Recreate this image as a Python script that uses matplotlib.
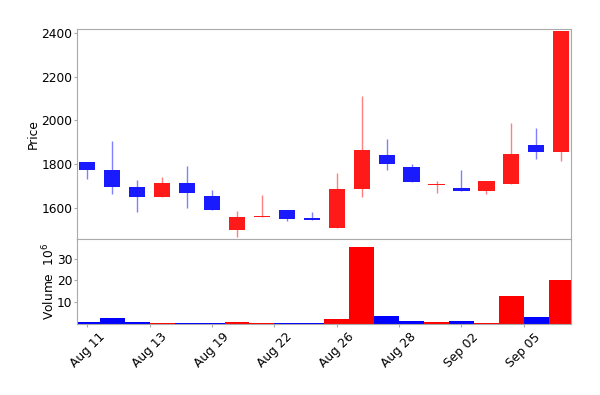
import numpy as np
import matplotlib
matplotlib.use("Agg")
import matplotlib.pyplot as plt
from matplotlib.ticker import MultipleLocator, FuncFormatter

# === Data ===
dates = ["Aug 11", "Aug 12", "Aug 13", "Aug 14", "Aug 18", "Aug 19", "Aug 21",
         "Aug 22", "Aug 23", "Aug 25", "Aug 26", "Aug 27", "Aug 28", "Aug 29",
         "Sep 01", "Sep 02", "Sep 04", "Sep 05", "Sep 08", "Sep 09"]
opens = [1810, 1774, 1696, 1652, 1713, 1655, 1499, 1559, 1591, 1553,
         1510, 1688, 1842, 1787, 1704, 1690, 1676, 1707, 1887, 1855]
closes = [1771, 1697, 1650, 1713, 1667, 1589, 1560, 1564, 1547, 1544,
          1688, 1865, 1800, 1719, 1710, 1675, 1722, 1848, 1855, 2410]
highs = [1810, 1906, 1728, 1740, 1792, 1682, 1586, 1659, 1591, 1579,
         1761, 2112, 1915, 1800, 1722, 1771, 1722, 1987, 1964, 2410]
lows = [1731, 1663, 1582, 1652, 1601, 1589, 1469, 1559, 1539, 1544,
        1510, 1649, 1774, 1719, 1667, 1675, 1664, 1707, 1823, 1812]
volumes = [0.5, 2.4, 0.8, 0.3, 0.3, 0.3, 0.6, 0.2, 0.1, 0.1,
           2.1, 35.7, 3.5, 1.3, 0.7, 1.0, 0.3, 12.9, 2.9, 20.2]  # millions

opens = np.array(opens, dtype=float)
closes = np.array(closes, dtype=float)
highs = np.array(highs, dtype=float)
lows = np.array(lows, dtype=float)
volumes = np.array(volumes, dtype=float)
x = np.arange(len(dates))

up = closes >= opens
body_colors = np.where(up, "#ff1a1a", "#1a1aff")
vol_colors = np.where(up, "red", "blue")
wick_colors = np.where(up, "#ff8080", "#8080ff")

plt.rcParams["font.size"] = 8.8
spine_col = "#aaaaaa"

fig = plt.figure(figsize=(6, 3.95), dpi=100)
ax = fig.add_axes([0.129, 0.395, 0.823, 0.532])
axv = fig.add_axes([0.129, 0.181, 0.823, 0.214], sharex=ax)

# candles
ax.vlines(x, lows, highs, colors=wick_colors, linewidth=1, zorder=1)
bottoms = np.minimum(opens, closes)
heights = np.maximum(np.abs(closes - opens), 2)
ax.bar(x, heights, bottom=bottoms, width=0.65, color=body_colors, zorder=2)

# volume
axv.bar(x, volumes, width=1.0, color=vol_colors)

ax.set_xlim(-0.4, 19.4)
ax.set_ylim(1458, 2418)
ax.set_yticks([1600, 1800, 2000, 2200, 2400])
ax.set_ylabel("Price", labelpad=1)
ax.tick_params(axis="x", which="both", bottom=False, labelbottom=False)

axv.set_ylim(0, volumes.max() * 1.1)
axv.set_yticks([10, 20, 30])
axv.set_ylabel("Volume  $10^6$", labelpad=0)

axv.xaxis.set_major_locator(MultipleLocator(2.5))
axv.xaxis.set_major_formatter(FuncFormatter(
    lambda v, pos: dates[int(v)] if 0 <= int(v) < len(dates) else ""))
plt.setp(axv.get_xticklabels(), rotation=45, ha="center")

for a in (ax, axv):
    for s in a.spines.values():
        s.set_color(spine_col)
    a.tick_params(length=2, pad=1.5, color=spine_col)
axv.tick_params(axis="x", pad=3)

fig.savefig("out.png", dpi=100)
